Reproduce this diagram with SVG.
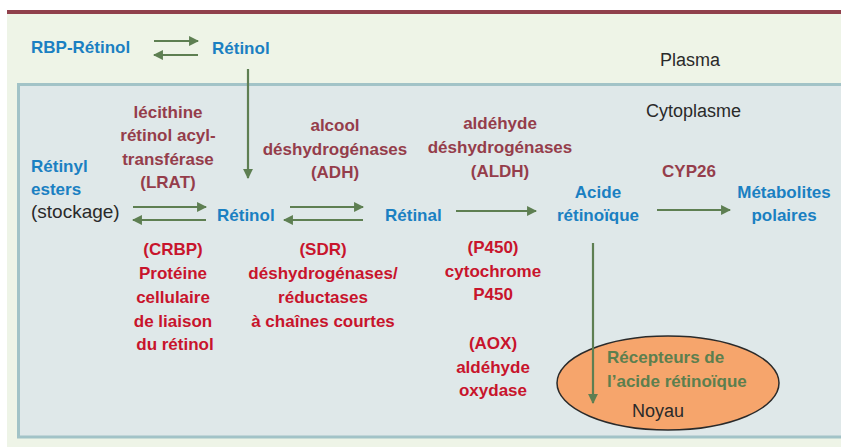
<svg xmlns="http://www.w3.org/2000/svg" width="841" height="447" viewBox="0 0 841 447">
<style>
text{font-family:"Liberation Sans",Arial,sans-serif;}
.b{font-weight:bold;font-size:17px;fill:#1a80c2;}
.e{font-weight:bold;font-size:17px;fill:#953d4b;text-anchor:middle;}
.r{font-weight:bold;font-size:17px;fill:#c8142c;text-anchor:middle;}
.g{font-weight:bold;font-size:17px;fill:#5c7f4e;}
.n{font-size:18px;fill:#2a2a2a;}
.c{text-anchor:middle;}
.a{stroke:#5e7f52;stroke-width:2.2;fill:none;marker-end:url(#ah);}
</style>
<defs>
<marker id="ah" viewBox="0 0 10 10" refX="9" refY="5" markerWidth="4.5" markerHeight="4.5" orient="auto" markerUnits="strokeWidth">
<path d="M0,0 L10,5 L0,10 Z" fill="#5e7f52"/>
</marker>
</defs>
<rect x="0" y="0" width="841" height="447" fill="#ffffff"/>
<g id="plasma">
<rect x="7" y="13" width="834" height="434" fill="#eef4e7"/>
<line x1="7" y1="12" x2="841" y2="12" stroke="#90404c" stroke-width="4"/>
<text class="n" x="660" y="66">Plasma</text>
</g>
<g id="cytoplasm">
<rect x="18.5" y="84.5" width="830" height="352.5" fill="#dfe8e9" stroke="#a2c3c7" stroke-width="3"/>
<text class="n" x="646" y="117">Cytoplasme</text>
</g>
<g id="noyau">
<ellipse cx="668" cy="383" rx="111" ry="47" fill="#f6a56c" stroke="#2a2a2a" stroke-width="1.5"/>
<text class="g" x="607" y="363">Récepteurs de</text>
<text class="g" x="607" y="387">l’acide rétinoïque</text>
<text class="n" x="632" y="417">Noyau</text>
</g>
<g id="rbp-retinol"><text class="b" x="31" y="53">RBP-Rétinol</text></g>
<g id="retinol-plasma"><text class="b" x="212" y="54">Rétinol</text></g>
<g id="retinyl-esters">
<text class="b" x="31" y="172">Rétinyl</text>
<text class="b" x="31" y="195">esters</text>
<text class="n" x="31" y="218" style="font-size:19px">(stockage)</text>
</g>
<g id="retinol"><text class="b" x="217" y="221">Rétinol</text></g>
<g id="retinal"><text class="b" x="385" y="221">Rétinal</text></g>
<g id="acide-retinoique">
<text class="b c" x="598" y="198">Acide</text>
<text class="b c" x="598" y="221">rétinoïque</text>
</g>
<g id="metabolites">
<text class="b c" x="784" y="198">Métabolites</text>
<text class="b c" x="784" y="221">polaires</text>
</g>
<g id="lrat">
<text class="e" x="168" y="118">lécithine</text>
<text class="e" x="168" y="141">rétinol acyl-</text>
<text class="e" x="168" y="165">transférase</text>
<text class="e" x="168" y="188">(LRAT)</text>
</g>
<g id="adh">
<text class="e" x="335" y="131">alcool</text>
<text class="e" x="335" y="155">déshydrogénases</text>
<text class="e" x="335" y="178">(ADH)</text>
</g>
<g id="aldh">
<text class="e" x="500" y="129">aldéhyde</text>
<text class="e" x="500" y="153">déshydrogénases</text>
<text class="e" x="500" y="177">(ALDH)</text>
</g>
<g id="cyp26"><text class="e" x="689" y="177">CYP26</text></g>
<g id="crbp">
<text class="r" x="173" y="255">(CRBP)</text>
<text class="r" x="173" y="279">Protéine</text>
<text class="r" x="173" y="303">cellulaire</text>
<text class="r" x="173" y="327">de liaison</text>
<text class="r" x="175" y="350">du rétinol</text>
</g>
<g id="sdr">
<text class="r" x="323" y="255">(SDR)</text>
<text class="r" x="323" y="279">déshydrogénases/</text>
<text class="r" x="323" y="303">réductases</text>
<text class="r" x="323" y="327">à chaînes courtes</text>
</g>
<g id="p450">
<text class="r" x="493" y="253">(P450)</text>
<text class="r" x="493" y="277">cytochrome</text>
<text class="r" x="493" y="300">P450</text>
</g>
<g id="aox">
<text class="r" x="493" y="349">(AOX)</text>
<text class="r" x="493" y="373">aldéhyde</text>
<text class="r" x="493" y="396">oxydase</text>
</g>
<g id="connectors">
<line class="a" x1="154" y1="41" x2="198" y2="41"/>
<line class="a" x1="198" y1="55" x2="154" y2="55"/>
<line class="a" x1="248" y1="69" x2="248" y2="178"/>
<line class="a" x1="133" y1="207" x2="206" y2="207"/>
<line class="a" x1="206" y1="220" x2="133" y2="220"/>
<line class="a" x1="290" y1="207" x2="363" y2="207"/>
<line class="a" x1="363" y1="220" x2="284" y2="220"/>
<line class="a" x1="456" y1="211" x2="536" y2="211"/>
<line class="a" x1="657" y1="210" x2="730" y2="210"/>
<line class="a" x1="593" y1="243" x2="593" y2="403"/>
</g>
</svg>
